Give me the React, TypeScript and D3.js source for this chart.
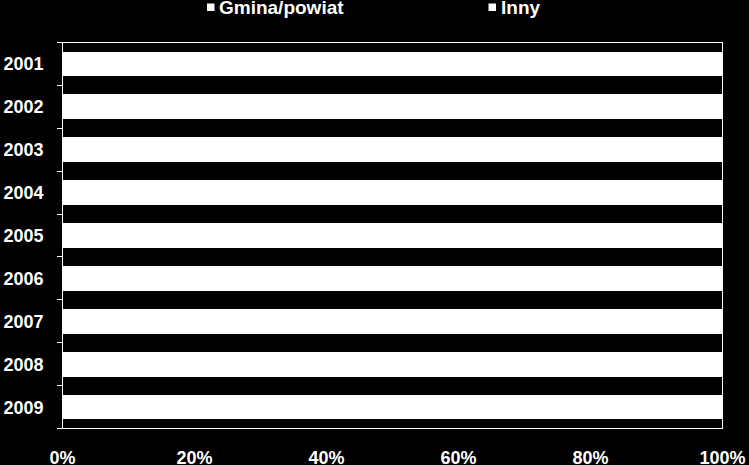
import { useEffect } from 'react';
import * as d3 from 'd3';

const years = ['2001', '2002', '2003', '2004', '2005', '2006', '2007', '2008', '2009'];
const seriesNames = ['Gmina/powiat', 'Inny'];
// both series are drawn in white in the source, so the split between them is not visible
const gminaPowiat = [71, 69, 68, 68, 66, 65, 64, 63, 62];
const inny = [29, 31, 32, 32, 34, 35, 36, 37, 38];
const xTicks = [0, 0.2, 0.4, 0.6, 0.8, 1];

const width = 749;
const height = 465;
const margin = { top: 42.5, right: 26.5, bottom: 36.5, left: 62.5 };
const font = "'Liberation Sans', Arial, sans-serif";

export default function App() {
  useEffect(() => {
    document.body.style.margin = '0';
    document.body.style.background = '#000';
  }, []);

  const rows = years.map((y, i) => ({ year: y, 'Gmina/powiat': gminaPowiat[i], Inny: inny[i] }));
  const stacked = d3
    .stack<any>()
    .keys(seriesNames)
    .offset(d3.stackOffsetExpand)(rows);

  const x = d3
    .scaleLinear()
    .domain([0, 1])
    .range([margin.left, width - margin.right]);

  const y = d3
    .scaleBand()
    .domain(years)
    .range([margin.top, height - margin.bottom])
    .paddingInner(0.42)
    .paddingOuter(0.21);

  const step = y.step();
  const boundaries = d3.range(years.length + 1).map((i) => margin.top + i * step);

  return (
    <svg width={width} height={height} style={{ display: 'block', background: '#000' }}>
      <rect x={0} y={0} width={width} height={height} fill="#000" />

      {/* bars */}
      <g shapeRendering="crispEdges">
        {stacked.map((layer) =>
          layer.map((d, i) => (
            <rect
              key={layer.key + i}
              x={x(d[0])}
              y={y(years[i])}
              width={x(d[1]) - x(d[0])}
              height={y.bandwidth()}
              fill="#fff"
            />
          ))
        )}
      </g>

      {/* plot frame */}
      <rect
        x={margin.left}
        y={margin.top}
        width={width - margin.left - margin.right}
        height={height - margin.top - margin.bottom}
        fill="none"
        stroke="#fff"
        strokeWidth={1}
        shapeRendering="crispEdges"
      />

      {/* category ticks between bars */}
      <g stroke="#fff" shapeRendering="crispEdges">
        {boundaries.map((b, i) => (
          <line key={i} x1={margin.left - 6} x2={margin.left} y1={b} y2={b} />
        ))}
      </g>

      {/* year labels */}
      <g fontFamily={font} fontWeight="bold" fontSize={18} fill="#fff" textAnchor="end">
        {years.map((yr) => (
          <text key={yr} x={43.5} y={(y(yr) ?? 0) + y.bandwidth() / 2} dy="0.36em">
            {yr}
          </text>
        ))}
      </g>

      {/* percent labels, clipped by the bottom edge as in the source */}
      <g fontFamily={font} fontWeight="bold" fontSize={18} fill="#fff" textAnchor="middle">
        {xTicks.map((t) => (
          <text key={t} x={x(t)} y={464}>
            {d3.format('.0%')(t)}
          </text>
        ))}
      </g>

      {/* legend */}
      <g fontFamily={font} fontWeight="bold" fontSize={19} fill="#fff">
        <rect x={207} y={3.5} width={7.5} height={7.5} fill="#fff" />
        <text x={219} y={14}>{seriesNames[0]}</text>
        <rect x={488.5} y={3.5} width={7.5} height={7.5} fill="#fff" />
        <text x={501} y={14}>{seriesNames[1]}</text>
      </g>
    </svg>
  );
}
